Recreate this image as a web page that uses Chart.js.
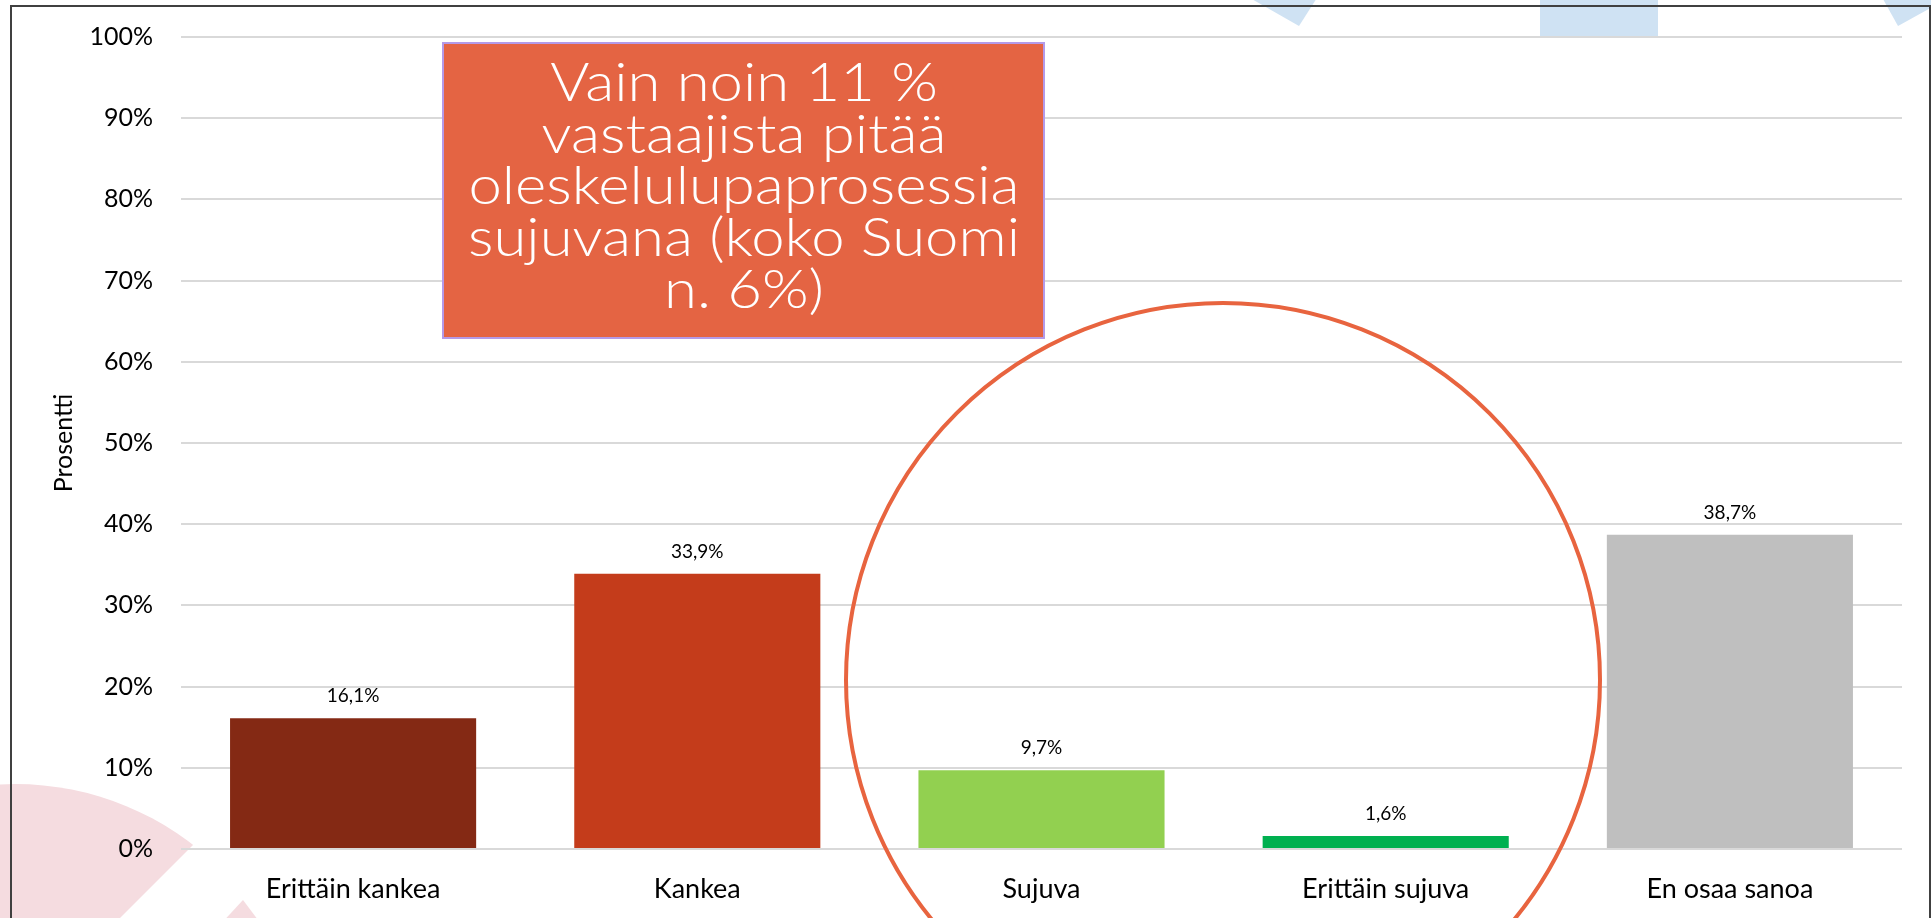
<!DOCTYPE html>
<html>
<head>
<meta charset="utf-8">
<script src="https://cdn.jsdelivr.net/npm/chart.js@4.4.1/dist/chart.umd.min.js"></script>
<style>
  html, body { margin: 0; padding: 0; background: #fff; }
  #wrap { width: 1931px; height: 918px; }
</style>
</head>
<body>
<div id="wrap"><canvas id="chart" width="1931" height="918"></canvas></div>
<script>
const categories = ["Erittäin kankea", "Kankea", "Sujuva", "Erittäin sujuva", "En osaa sanoa"];
const percentages = [16.1, 33.9, 9.7, 1.6, 38.7];
const barColors = ["#842914", "#C43C1B", "#92D050", "#00B050", "#BFBFBF"];
const yTickValues = [0, 10, 20, 30, 40, 50, 60, 70, 80, 90, 100];
const noteLines = ["Vain noin 11 %", "vastaajista pitää", "oleskelulupaprosessia", "sujuvana (koko Suomi", "n. 6%)"];

function formatPercent(value) {
  return value.toFixed(1).replace(".", ",") + "%";
}

// slide decoration behind the chart + frame
const slideBackground = {
  id: "slideBackground",
  beforeDraw(chart) {
    const ctx = chart.ctx;
    ctx.save();
    ctx.fillStyle = "#fff";
    ctx.fillRect(0, 0, chart.width, chart.height);

    // pink circle, cut by a diagonal
    ctx.save();
    ctx.beginPath();
    ctx.moveTo(-10, -10);
    ctx.lineTo(1048, -10);
    ctx.lineTo(-10, 1048);
    ctx.closePath();
    ctx.clip();
    ctx.fillStyle = "#F5DCE0";
    ctx.beginPath();
    ctx.arc(15, 1075, 291, 0, Math.PI * 2);
    ctx.fill();
    ctx.restore();

    ctx.fillStyle = "#F5DCE0";
    ctx.beginPath();
    ctx.moveTo(243, 900);
    ctx.lineTo(273, 940);
    ctx.lineTo(206, 940);
    ctx.closePath();
    ctx.fill();

    // light blue shapes at the top
    ctx.fillStyle = "#CFE2F3";
    ctx.beginPath();
    ctx.moveTo(1236, -10);
    ctx.lineTo(1322, -10);
    ctx.lineTo(1299, 26);
    ctx.closePath();
    ctx.fill();
    ctx.fillRect(1540, 0, 118, 37);
    ctx.beginPath();
    ctx.moveTo(1878, -10);
    ctx.lineTo(1898, 26);
    ctx.lineTo(1945, 0);
    ctx.lineTo(1945, -10);
    ctx.closePath();
    ctx.fill();

    ctx.strokeStyle = "#404040";
    ctx.lineWidth = 2;
    ctx.strokeRect(11, 6, 1919, 950);
    ctx.restore();
  }
};

const barValueLabels = {
  id: "barValueLabels",
  afterDatasetsDraw(chart) {
    const ctx = chart.ctx;
    const meta = chart.getDatasetMeta(0);
    ctx.save();
    ctx.font = "19px Lato";
    ctx.fillStyle = "#000";
    ctx.textAlign = "center";
    ctx.textBaseline = "alphabetic";
    meta.data.forEach((bar, i) => {
      ctx.fillText(formatPercent(percentages[i]), bar.x, bar.y - 16);
    });
    ctx.restore();
  }
};

// callout box and the ring round the "sujuva" bars
const callouts = {
  id: "callouts",
  afterDraw(chart) {
    const ctx = chart.ctx;
    ctx.save();
    ctx.strokeStyle = "#E8643F";
    ctx.lineWidth = 4;
    ctx.beginPath();
    ctx.arc(1223, 680, 377, 0, Math.PI * 2);
    ctx.stroke();

    ctx.fillStyle = "#E46443";
    ctx.fillRect(443, 43, 601, 295);
    ctx.strokeStyle = "#B49AE8";
    ctx.lineWidth = 2;
    ctx.strokeRect(443, 43, 601, 295);

    ctx.fillStyle = "#fff";
    ctx.font = "300 54px Lato";
    ctx.textAlign = "center";
    ctx.textBaseline = "alphabetic";
    // stretch wide like the original geometric font
    const widest = Math.max(...noteLines.map((l) => ctx.measureText(l).width));
    const stretch = 552 / widest;
    ctx.translate(744, 0);
    ctx.scale(stretch, 1);
    noteLines.forEach((line, i) => {
      ctx.fillText(line, 0, 101 + i * 51.7);
    });
    ctx.restore();
  }
};

new Chart(document.getElementById("chart"), {
  type: "bar",
  data: {
    labels: categories,
    datasets: [
      {
        data: percentages,
        backgroundColor: barColors,
        borderWidth: 0,
        barPercentage: 0.715,
        categoryPercentage: 1,
      },
    ],
  },
  options: {
    responsive: false,
    animation: false,
    layout: { padding: { top: 37, right: 29, left: 0, bottom: 0 } },
    scales: {
      x: {
        grid: { display: false },
        border: { display: false },
        ticks: {
          color: "#000",
          font: { family: "Lato", size: 27 },
          padding: 16,
          maxRotation: 0,
        },
        afterFit: (scale) => {
          scale.height = 69;
        },
      },
      y: {
        min: 0,
        max: 100,
        afterBuildTicks: (axis) => {
          axis.ticks = yTickValues.map((v) => ({ value: v }));
        },
        // invisible tick marks give the label gap without extra top padding
        grid: {
          color: "#D9D9D9",
          lineWidth: 2,
          drawTicks: true,
          tickLength: 28,
          tickColor: "rgba(0,0,0,0)",
        },
        border: { display: false },
        ticks: {
          color: "#000",
          font: { family: "Lato", size: 25 },
          padding: 0,
          callback: (v) => v + "%",
        },
        title: {
          display: true,
          text: "Prosentti",
          color: "#000",
          font: { family: "Lato", size: 25 },
          padding: { top: 49, bottom: 0 },
        },
        afterFit: (scale) => {
          scale.width = 181;
        },
      },
    },
    plugins: {
      legend: { display: false },
      tooltip: { enabled: false },
    },
  },
  plugins: [slideBackground, barValueLabels, callouts],
});
</script>
</body>
</html>
